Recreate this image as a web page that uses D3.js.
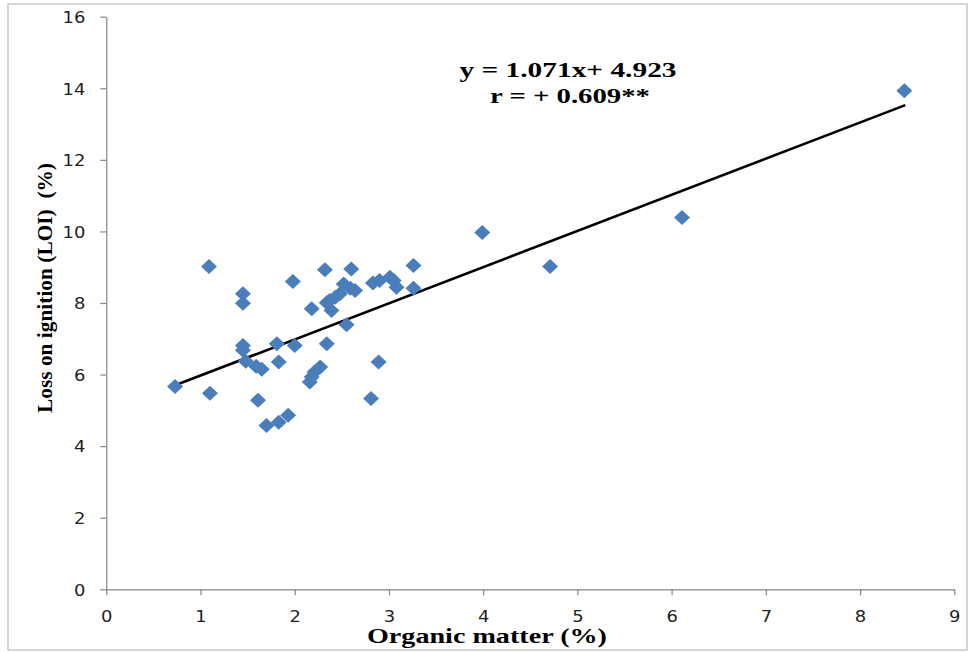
<!DOCTYPE html>
<html>
<head>
<meta charset="utf-8">
<script src="https://cdn.jsdelivr.net/npm/d3@7"></script>
<style>
  html, body { margin: 0; padding: 0; background: #fff; }
  svg { display: block; }
</style>
</head>
<body>
<svg id="chart" width="971" height="652"></svg>
<script>
// ---- data ----
const organicMatter = [0.73, 1.09, 1.10, 1.45, 1.45, 1.45, 1.45, 1.48, 1.59, 1.65,
  1.61, 1.70, 1.83, 1.93, 1.81, 1.83, 1.98, 2.00, 2.18, 2.16,
  2.18, 2.21, 2.27, 2.32, 2.34, 2.34, 2.37, 2.39, 2.43, 2.48,
  2.52, 2.55, 2.59, 2.60, 2.64, 2.81, 2.83, 2.89, 2.90, 3.01,
  3.05, 3.08, 3.26, 3.26, 3.99, 4.71, 6.11, 8.47];
const lossOnIgnition = [5.67, 9.02, 5.48, 8.26, 7.99, 6.81, 6.68, 6.37, 6.23, 6.15,
  5.28, 4.58, 4.67, 4.86, 6.86, 6.35, 8.60, 6.81, 7.84, 5.79,
  5.93, 6.07, 6.21, 8.93, 6.86, 8.01, 8.07, 7.79, 8.16, 8.26,
  8.53, 7.39, 8.41, 8.95, 8.35, 5.33, 8.56, 6.35, 8.63, 8.72,
  8.63, 8.44, 9.05, 8.41, 9.97, 9.02, 10.39, 13.93];
const trendX = [0.73, 8.48];
const trendY = [5.70, 13.53];
const xTicks = [0, 1, 2, 3, 4, 5, 6, 7, 8, 9];
const yTicks = [0, 2, 4, 6, 8, 10, 12, 14, 16];
const equationLines = ["y = 1.071x+ 4.923", "r = + 0.609**"];
const xTitle = "Organic matter (%)";
const yTitle = "Loss on ignition (LOI)  (%)";

(function () {
// ---- layout ----
const svg = d3.select("#chart");
const pLeft = 106.3, pRight = 954.3, pTop = 16.7, pBottom = 589.3;
const x = d3.scaleLinear().domain([0, 9]).range([pLeft, pRight]);
const y = d3.scaleLinear().domain([0, 16]).range([pBottom, pTop]);

// outer frame
svg.append("rect").attr("x", 8).attr("y", 4).attr("width", 959).attr("height", 646)
  .attr("fill", "#fff").attr("stroke", "#c8c8c8").attr("stroke-width", 1.5);

const axisColor = "#868686";
function styleAxis(g) {
  g.selectAll(".domain").attr("stroke", axisColor).attr("stroke-width", 1.2);
  g.selectAll(".tick line").attr("stroke", axisColor).attr("stroke-width", 1.2);
  g.selectAll(".tick text").attr("fill", "#222")
    .style("font-family", "'DejaVu Sans', Verdana, sans-serif").style("font-size", "16px");
}

const gx = svg.append("g").attr("transform", `translate(0,${pBottom})`)
  .call(d3.axisBottom(x).tickValues(xTicks).tickSize(6).tickSizeOuter(0).tickPadding(15)
        .tickFormat(d3.format("d")));
styleAxis(gx);

const gy = svg.append("g").attr("transform", `translate(${pLeft},0)`)
  .call(d3.axisLeft(y).tickValues(yTicks).tickSize(6).tickSizeOuter(0).tickPadding(15)
        .tickFormat(d3.format("d")));
styleAxis(gy);
gy.selectAll(".tick text").attr("dy", "0.36em");

// stretch tick labels slightly horizontally like the reference
svg.selectAll(".tick text").each(function() {
  const w = this.getComputedTextLength();
  d3.select(this).attr("textLength", w * 1.12).attr("lengthAdjust", "spacingAndGlyphs");
});

// trend line
svg.append("line")
  .attr("x1", x(trendX[0])).attr("y1", y(trendY[0]))
  .attr("x2", x(trendX[1])).attr("y2", y(trendY[1]))
  .attr("stroke", "#000").attr("stroke-width", 2.6);

// diamonds
const pts = organicMatter.map((v, i) => [v, lossOnIgnition[i]]);
const diamond = "M0,-7.5L8,0L0,7.5L-8,0Z";
svg.append("g").selectAll("path").data(pts).join("path")
  .attr("d", diamond)
  .attr("transform", d => `translate(${x(d[0])},${y(d[1])})`)
  .attr("fill", "#4A7EBB");

// equation text
const serif = "'Liberation Serif', 'Times New Roman', serif";
svg.append("text").attr("x", 568).attr("y", 77)
  .attr("text-anchor", "middle").attr("font-family", serif).attr("font-weight", "bold")
  .attr("font-size", 20).attr("textLength", 217).attr("lengthAdjust", "spacingAndGlyphs")
  .text(equationLines[0]);
svg.append("text").attr("x", 570).attr("y", 103)
  .attr("text-anchor", "middle").attr("font-family", serif).attr("font-weight", "bold")
  .attr("font-size", 20).attr("textLength", 160).attr("lengthAdjust", "spacingAndGlyphs")
  .text(equationLines[1]);

// axis titles
svg.append("text").attr("x", 487).attr("y", 643)
  .attr("text-anchor", "middle").attr("font-family", serif).attr("font-weight", "bold")
  .attr("font-size", 22).attr("textLength", 240).attr("lengthAdjust", "spacingAndGlyphs")
  .text(xTitle);
svg.append("text").attr("transform", "translate(52,288) rotate(-90)")
  .attr("text-anchor", "middle").attr("font-family", serif).attr("font-weight", "bold")
  .attr("font-size", 22).attr("textLength", 250).attr("lengthAdjust", "spacingAndGlyphs")
  .attr("xml:space", "preserve").style("white-space", "pre")
  .text(yTitle);
})();
</script>
</body>
</html>
